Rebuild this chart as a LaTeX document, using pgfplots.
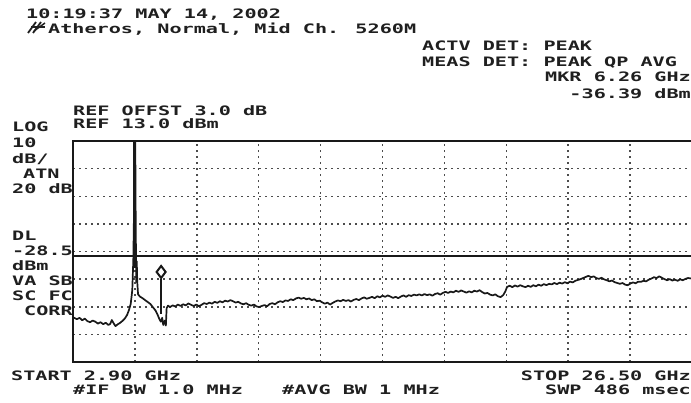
\documentclass[border=0pt]{standalone}
\usepackage{pgfplots}
\pgfplotsset{compat=1.18}
\usepackage{fontspec}
\newfontfamily\hp[FakeStretch=1.55]{DejaVu Sans Mono Bold}
\pgfplotstableread{
f db
2.90 -50.8
3.05 -51.5
3.15 -51.0
3.25 -51.9
3.35 -51.3
3.45 -52.2
3.55 -52.6
3.65 -52.0
3.75 -52.4
3.85 -53.1
3.95 -52.6
4.05 -53.3
4.15 -52.8
4.25 -53.6
4.32 -53.2
4.38 -51.8
4.45 -53.0
4.52 -54.0
4.60 -53.4
4.70 -52.8
4.80 -52.0
4.88 -51.2
4.96 -50.0
5.03 -48.3
5.10 -46.0
5.16 -41.0
5.20 -30
5.23 -10
5.25 20
5.27 20
5.29 -15
5.31 -38
5.33 -30.5
5.35 -38
5.38 -42.5
5.45 -43.3
5.55 -43.9
5.65 -44.6
5.75 -45.3
5.85 -46.0
5.95 -47.2
6.05 -48.4
6.13 -50.0
6.20 -51.6
6.25 -52.4
6.30 -51.0
6.34 -53.6
6.40 -52.0
6.44 -53.8
6.47 -47.5
6.52 -46.6
6.60 -47.1
6.70 -46.5
6.80 -46.9
6.90 -46.2
7.00 -46.7
7.10 -46.1
7.20 -46.5
7.30 -45.8
7.40 -46.3
7.50 -46.7
7.60 -46.2
7.70 -46.8
7.80 -46.3
7.90 -45.7
8.00 -46.0
8.10 -45.5
8.20 -45.9
8.30 -45.2
8.40 -45.6
8.50 -45.0
8.60 -45.4
8.70 -44.8
8.80 -45.1
8.90 -44.6
9.00 -45.0
9.10 -45.5
9.20 -45.2
9.30 -45.8
9.40 -46.1
9.50 -45.7
9.60 -46.3
9.70 -46.6
9.80 -46.2
9.90 -46.9
10.00 -47.1
10.10 -46.7
10.20 -46.4
10.30 -46.8
10.40 -46.0
10.50 -45.7
10.60 -46.1
10.70 -45.4
10.80 -45.0
10.90 -45.3
11.00 -44.7
11.10 -44.9
11.20 -44.3
11.30 -44.6
11.40 -44.0
11.50 -43.7
11.60 -44.1
11.70 -43.8
11.80 -44.3
11.90 -44.0
12.00 -44.6
12.10 -44.3
12.20 -45.0
12.30 -44.8
12.40 -45.4
12.50 -45.9
12.60 -45.5
12.70 -46.2
12.80 -45.6
12.90 -45.1
13.00 -44.7
13.10 -45.0
13.20 -44.5
13.30 -44.9
13.40 -44.6
13.50 -45.1
13.60 -44.5
13.70 -44.2
13.80 -44.6
13.90 -44.0
14.00 -43.6
14.10 -44.1
14.20 -43.8
14.30 -43.4
14.40 -43.9
14.50 -43.2
14.60 -43.6
14.70 -43.0
14.80 -43.4
14.90 -42.9
15.00 -43.3
15.10 -43.8
15.20 -43.4
15.30 -43.9
15.40 -43.3
15.50 -42.9
15.60 -43.4
15.70 -42.8
15.80 -43.1
15.90 -42.6
16.00 -42.9
16.10 -42.5
16.20 -42.9
16.30 -42.4
16.40 -42.8
16.50 -42.5
16.60 -43.0
16.70 -42.4
16.80 -42.1
16.90 -42.6
17.00 -42.0
17.10 -41.6
17.20 -42.0
17.30 -41.5
17.40 -41.8
17.50 -41.2
17.60 -41.6
17.70 -41.1
17.80 -41.5
17.90 -41.9
18.00 -41.4
18.10 -41.8
18.20 -41.2
18.30 -41.5
18.40 -41.0
18.50 -41.7
18.60 -42.2
18.70 -42.0
18.80 -42.6
18.90 -42.9
19.00 -42.5
19.10 -43.2
19.20 -43.5
19.30 -42.8
19.38 -41.5
19.45 -39.8
19.55 -39.4
19.65 -39.9
19.75 -39.3
19.85 -39.7
19.95 -39.2
20.05 -39.6
20.15 -39.9
20.25 -39.4
20.35 -39.8
20.45 -39.2
20.55 -39.6
20.65 -39.0
20.75 -39.4
20.85 -38.8
20.95 -39.2
21.05 -38.7
21.15 -38.9
21.25 -38.4
21.35 -38.8
21.45 -38.3
21.55 -38.6
21.65 -38.1
21.75 -38.5
21.85 -37.9
21.95 -38.2
22.05 -37.6
22.15 -37.3
22.25 -37.0
22.35 -36.6
22.45 -36.2
22.55 -35.8
22.65 -36.3
22.75 -36.0
22.85 -36.6
22.95 -36.9
23.05 -36.5
23.15 -37.1
23.25 -37.4
23.35 -37.8
23.45 -37.5
23.55 -38.1
23.65 -38.4
23.75 -38.7
23.85 -38.4
23.95 -39.0
24.05 -39.2
24.15 -38.6
24.25 -38.2
24.35 -38.5
24.45 -37.9
24.55 -38.0
24.65 -37.6
24.75 -37.8
24.85 -37.2
24.95 -36.8
25.05 -36.3
25.15 -36.6
25.25 -36.0
25.35 -36.5
25.45 -37.0
25.55 -37.4
25.65 -37.0
25.75 -37.5
25.85 -37.2
25.95 -37.6
26.05 -37.1
26.15 -37.4
26.25 -36.9
26.35 -36.6
26.50 -36.8
}\trace
\begin{document}
\begin{tikzpicture}[x=1bp,y=1bp,
  lab/.style={inner sep=0pt, anchor=base west, text=black!88, font=\hp\fontsize{13bp}{14bp}\selectfont},
  labr/.style={lab, anchor=base east}]
\useasboundingbox (0,0) rectangle (691,402);
\fill[white] (0,0) rectangle (691,402);
\begin{axis}[at={(73bp,40bp)}, anchor=south west,
  width=619bp, height=221bp, scale only axis,
  xmin=2.9, xmax=26.5, ymin=-67, ymax=13,
  xtick={5.26,7.62,9.98,12.34,14.70,17.06,19.42,21.78,24.14},
  ytick={-57,-47,-37,-27,-17,-7,3},
  xticklabels={}, yticklabels={},
  major tick length=0pt,
  grid=major,
  major grid style={black!70, line width=1.5bp, dash pattern=on 2.2bp off 3.8bp},
  axis line style={black!90, line width=2.2bp}]
\addplot[black!90, line width=2.2bp] coordinates {(2.9,-28.5) (26.5,-28.5)};
\addplot[black!90, line width=1.7bp, line join=round] table[x=f,y=db] {\trace};
\addplot[black!90, line width=2.8bp] coordinates {(5.25,13) (5.25,-33)};
\addplot[black!90, line width=1.5bp] coordinates {(6.26,-36.9) (6.26,-49.5)};
\addplot[black!90, line width=2bp, mark=diamond, mark size=6bp, mark options={fill=white, solid}, only marks] coordinates {(6.26,-34.4)};
\end{axis}
% small logo
\draw[black!88, line width=1.8bp] (28,369) -- (36,380);
\draw[black!88, line width=1.8bp] (33,369) -- (41,380);
\draw[black!88, line width=1.5bp] (31,375) -- (45,375);
\draw[black!88, line width=1.5bp] (34,371) -- (45,379);
\node[lab] at (26,383.7) {10:19:37 MAY 14, 2002};
\node[lab] at (48,368.7) {Atheros, Normal, Mid Ch. 5260M};
\node[lab] at (422,351.3) {ACTV DET: PEAK};
\node[lab] at (422,336) {MEAS DET: PEAK QP AVG};
\node[labr] at (691,320.3) {MKR 6.26 GHz};
\node[labr] at (691,303.7) {-36.39 dBm};
\node[lab] at (73,286.5) {REF OFFST 3.0 dB};
\node[lab] at (73,273.5) {REF 13.0 dBm};
\node[lab] at (12,271) {LOG};
\node[lab] at (12,255) {10};
\node[lab] at (12,239) {dB/};
\node[lab] at (23,224) {ATN};
\node[lab] at (12,209) {20 dB};
\node[lab] at (12,162) {DL};
\node[lab] at (12,147) {-28.5};
\node[lab] at (12,132) {dBm};
\node[lab] at (12,117) {VA SB};
\node[lab] at (12,102) {SC FC};
\node[lab] at (24,87) {CORR};
\node[lab] at (11,22) {START 2.90 GHz};
\node[lab] at (73,8) {\#IF BW 1.0 MHz};
\node[lab] at (282,8) {\#AVG BW 1 MHz};
\node[labr] at (691,22) {STOP 26.50 GHz};
\node[labr] at (691,8) {SWP 486 msec};
\end{tikzpicture}
\end{document}
